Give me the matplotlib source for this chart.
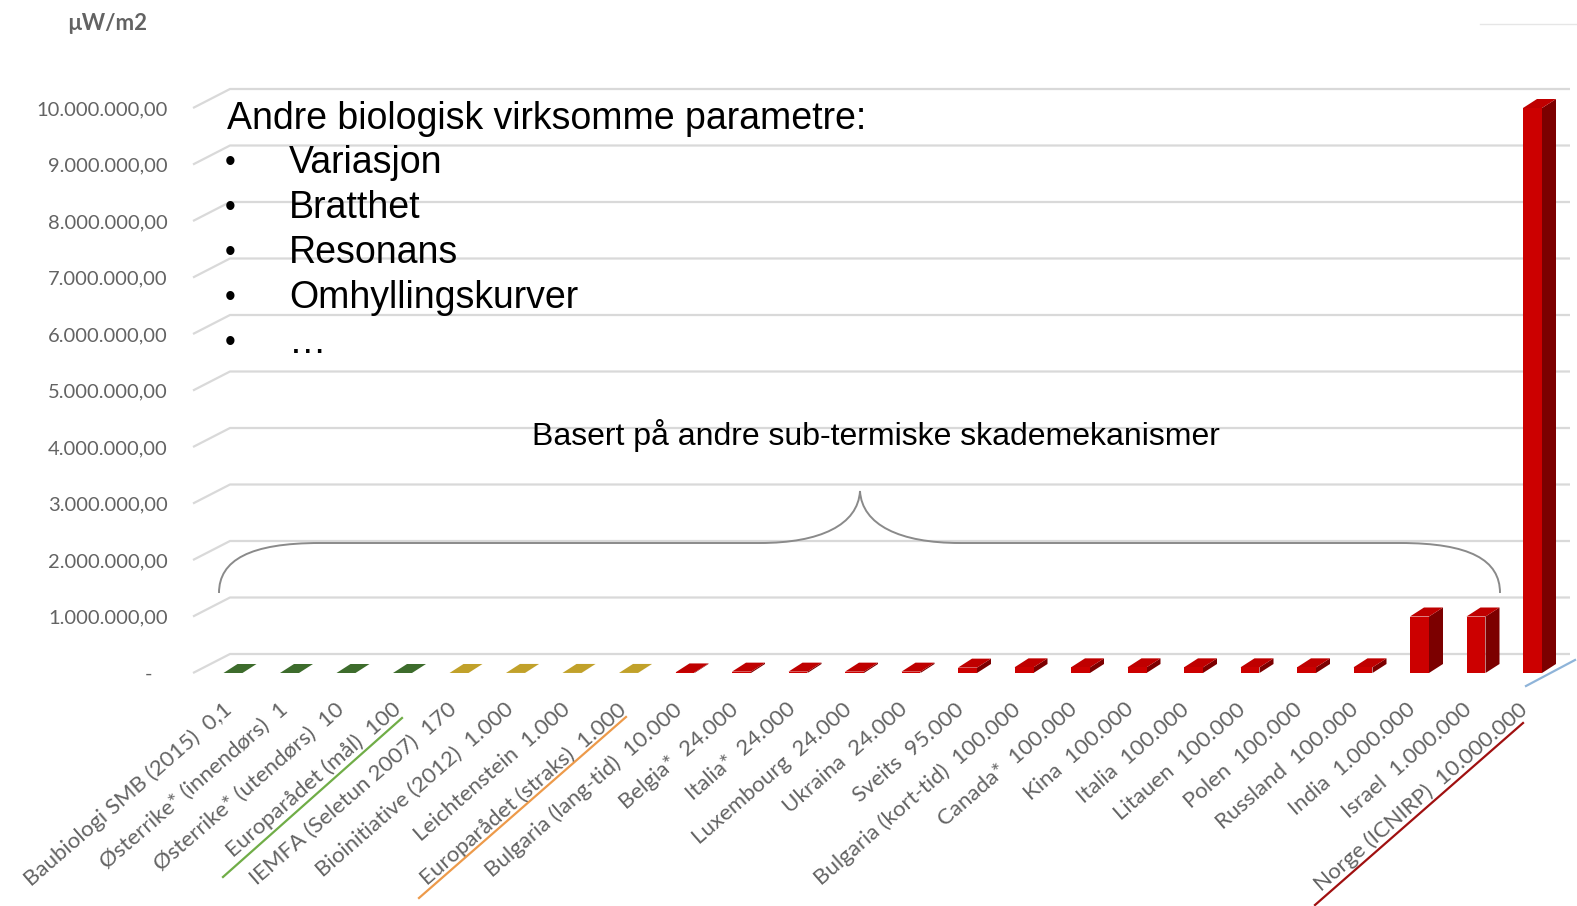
import numpy as np
from matplotlib import pyplot as plt
from matplotlib.patches import Polygon, PathPatch
from matplotlib.path import Path
from matplotlib.ticker import FixedLocator, FuncFormatter
import matplotlib.transforms as mtransforms

# data (µW/m2)
names = ["Baubiologi SMB (2015)", "Østerrike* (innendørs)", "Østerrike* (utendørs)",
         "Europarådet (mål)", "IEMFA (Seletun 2007)", "Bioinitiative (2012)",
         "Leichtenstein", "Europarådet (straks)", "Bulgaria (lang-tid)", "Belgia*",
         "Italia*", "Luxembourg", "Ukraina", "Sveits", "Bulgaria (kort-tid)", "Canada*",
         "Kina", "Italia", "Litauen", "Polen", "Russland", "India", "Israel",
         "Norge (ICNIRP)"]
values = [0.1, 1, 10, 100, 170, 1000, 1000, 1000, 10000, 24000, 24000, 24000, 24000,
          95000, 100000, 100000, 100000, 100000, 100000, 100000, 100000,
          1000000, 1000000, 10000000]
groups = ["green"] * 4 + ["olive"] * 4 + ["red"] * 16
yticks = [0, 1e6, 2e6, 3e6, 4e6, 5e6, 6e6, 7e6, 8e6, 9e6, 1e7]

bullet_title = "Andre biologisk virksomme parametre:"
bullets = ["Variasjon", "Bratthet", "Resonans", "Omhyllingskurver", "\u2026"]
brace_text = "Basert på andre sub-termiske skademekanismer"

# front / side / top colours of the 3D bars
palette = {
    "green": ("#4b7a35", "#2f5321", "#3d6c2c"),
    "olive": ("#c9a92c", "#98801e", "#c1a12a"),
    "red": ("#cc0000", "#7c0000", "#bf0000"),
}


def no_fmt(v):
    if v < 1:
        return str(v).replace(".", ",")
    return f"{int(v):,}".replace(",", ".")


def y_fmt(v, pos):
    if v == 0:
        return "-   "
    s = f"{v:,.2f}"
    return s.replace(",", "X").replace(".", ",").replace("X", ".")


W, H = 1577, 906
fig = plt.figure(figsize=(W / 100, H / 100), dpi=100)

# main axes, placed so the data maps onto the original pixel layout
px_left, px_right, px_top, px_bot = 190, 1570, 60, 700
ax = fig.add_axes([px_left / W, 1 - px_bot / H, (px_right - px_left) / W, (px_bot - px_top) / H])
x0, xs = 233, 56.5          # pixel of bar 0, pixels per bar
y0, ys = 673, 56.5e-6       # pixel of value 0, pixels per unit
ax.set_xlim((px_left - x0) / xs, (px_right - x0) / xs)
ax.set_ylim((y0 - px_bot) / ys, (y0 - px_top) / ys)
for s in ax.spines.values():
    s.set_visible(False)
ax.patch.set_alpha(0)

# 3D-looking gridlines: slanted front piece + back line
depth_y = 19 / ys
xa, xb = (193 - x0) / xs, (230 - x0) / xs
for t in yticks:
    ax.plot([xa, xb, ax.get_xlim()[1]], [t, t + depth_y, t + depth_y],
            color="#d9d9d9", lw=1.6, zorder=1, solid_capstyle="butt")

# bars: front face + side face + top face
bw = 19 / xs
dx, dy = 14 / xs, 9 / ys
for i, (v, g) in enumerate(zip(values, groups)):
    front, side, top = palette[g]
    l, r = i - bw / 2, i + bw / 2
    ax.add_patch(Polygon([(r, 0), (r + dx, dy), (r + dx, v + dy), (r, v)],
                         closed=True, fc=side, ec="none", zorder=3))
    ax.add_patch(Polygon([(l, v), (l + dx, v + dy), (r + dx, v + dy), (r, v)],
                         closed=True, fc=top, ec="none", zorder=3))
    ax.add_patch(Polygon([(l, 0), (r, 0), (r, v), (l, v)],
                         closed=True, fc=front, ec="none", zorder=4))

ax.yaxis.set_major_locator(FixedLocator(yticks))
ax.yaxis.set_major_formatter(FuncFormatter(y_fmt))
ax.tick_params(axis="y", length=0, pad=16, labelsize=14.5, labelcolor="#636363")
for lab in ax.get_yticklabels():
    lab.set_fontfamily("Lato")

ax.set_xticks(range(len(names)))
ax.set_xticklabels([f"{n}  {no_fmt(v)}" for n, v in zip(names, values)],
                   rotation=41, ha="right", va="center", rotation_mode="anchor",
                   fontfamily="Lato", fontsize=16, color="#636363")
ax.tick_params(axis="x", length=0, pad=12)
for i, lab in enumerate(ax.get_xticklabels()):
    shift = mtransforms.ScaledTranslation((-4 - 0.15 * i) / 100, 10 / 100, fig.dpi_scale_trans)
    lab.set_transform(lab.get_transform() + shift)

# overlay in pixel coordinates for the annotations
ov = fig.add_axes([0, 0, 1, 1], zorder=5)
ov.set_xlim(0, W)
ov.set_ylim(H, 0)
ov.axis("off")

ov.text(107, 24, "µW/m2", ha="center", va="center", fontsize=16,
        fontfamily="Lato", fontweight="bold", color="#636363")

ov.text(227, 119, bullet_title, ha="left", va="center", fontsize=27, family="Liberation Sans")
for k, b in enumerate(bullets):
    yy = 163 + 45 * k
    ov.text(225, yy, "\u2022", ha="left", va="center", fontsize=22, family="Liberation Sans")
    ov.text(289, yy, b, ha="left", va="center", fontsize=27, family="Liberation Sans")

ov.text(876, 435, brace_text, ha="center", va="center", fontsize=23,
        family="Liberation Sans")

# curly brace
verts = [(219, 593), (219, 560), (250, 543), (320, 543),
         (760, 543),
         (820, 543), (858, 525), (860, 491),
         (862, 525), (900, 543), (960, 543),
         (1400, 543),
         (1470, 543), (1500, 560), (1500, 593)]
codes = [Path.MOVETO, Path.CURVE4, Path.CURVE4, Path.CURVE4,
         Path.LINETO,
         Path.CURVE4, Path.CURVE4, Path.CURVE4,
         Path.CURVE4, Path.CURVE4, Path.CURVE4,
         Path.LINETO,
         Path.CURVE4, Path.CURVE4, Path.CURVE4]
ov.add_patch(PathPatch(Path(verts, codes), fc="none", ec="#8a8a8a", lw=1.4))

# coloured underlines of the x labels and the floor edge
ov.plot([223, 402], [877, 718], color="#70ad47", lw=1.6)
ov.plot([419, 626], [898, 717], color="#ed9a4a", lw=1.6)
ov.plot([1315, 1523], [905, 723], color="#a01010", lw=1.6)
ov.plot([1526, 1575], [686, 660], color="#8fb4d9", lw=1.6)
ov.plot([1480, 1577], [24, 24], color="#e6e6e6", lw=1.0)

fig.savefig("out.png", dpi=100)
